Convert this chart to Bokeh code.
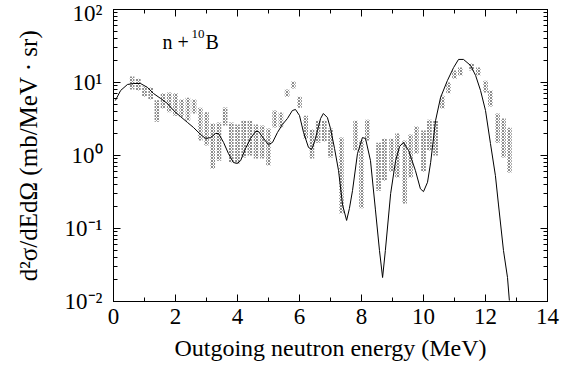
from bokeh.plotting import figure
from bokeh.models import ColumnDataSource, LinearAxis, LogAxis, Label
from bokeh.embed import file_html
from bokeh.resources import INLINE

# Calculated curve (MeV, mb/MeV/sr)
curve_e = [0.06, 0.23, 0.45, 0.65, 0.87, 1.10, 1.29, 1.52, 1.74, 1.94, 2.16, 2.39, 2.58, 2.81,
           2.97, 3.13, 3.29, 3.39, 3.55, 3.71, 3.87, 4.00, 4.10, 4.26, 4.42, 4.58, 4.68, 4.84,
           5.00, 5.13, 5.29, 5.45, 5.61, 5.77, 5.87, 6.00, 6.13, 6.29, 6.39, 6.48, 6.58, 6.68,
           6.77, 6.90, 7.00, 7.13, 7.26, 7.39, 7.52, 7.61, 7.71, 7.87, 8.03, 8.13, 8.29, 8.45,
           8.58, 8.68, 8.77, 8.94, 9.10, 9.23, 9.35, 9.52, 9.74, 9.90, 10.00, 10.13, 10.23,
           10.39, 10.55, 10.77, 10.97, 11.13, 11.29, 11.52, 11.68, 11.84, 12.00, 12.16, 12.32,
           12.42, 12.58, 12.71, 12.77]
curve_xs = [5.67, 7.77, 9.39, 9.69, 9.69, 8.54, 7.07, 6.04, 5.16, 4.13, 3.42, 2.83, 2.42, 1.94,
            1.71, 1.76, 2.00, 2.00, 1.51, 1.06, 0.80, 0.78, 0.85, 1.25, 1.71, 2.13, 2.13, 1.71,
            1.41, 1.51, 2.07, 2.66, 3.21, 4.13, 4.27, 3.53, 2.07, 1.29, 1.21, 1.51, 2.20, 3.21,
            3.76, 3.31, 2.34, 1.25, 0.62, 0.21, 0.129, 0.188, 0.33, 1.06, 1.76, 1.71, 0.85,
            0.18, 0.050, 0.0213, 0.050, 0.30, 0.85, 1.33, 1.51, 1.17, 0.62, 0.35, 0.32, 0.43,
            0.80, 3.02, 6.23, 10.6, 16.0, 20.7, 20.7, 17.1, 12.5, 7.77, 4.13, 1.46, 0.53,
            0.21, 0.050, 0.0213, 0.0103]

# Experimental data ranges (all angles) per energy bin
exp_e = [0.6, 0.8, 1.0, 1.2, 1.4, 1.6, 1.8, 2.0, 2.2, 2.4, 2.6, 2.8, 3.0, 3.2, 3.4, 3.6, 3.8,
         4.0, 4.2, 4.4, 4.6, 4.8, 5.0, 5.2, 5.4, 5.6, 5.8, 6.0, 6.2, 6.4, 6.6, 6.8, 7.0, 7.35,
         7.81, 8.0, 8.19, 8.55, 8.74, 8.97, 9.16, 9.39, 9.58, 9.77, 10.0, 10.19, 10.39, 10.61,
         10.81, 11.0, 11.19, 11.55, 11.77, 12.0, 12.16, 12.39, 12.58, 12.77]
exp_hi = [12.1, 11.3, 8.8, 8.55, 5.7, 7.1, 7.3, 7.1, 5.85, 6.2, 5.85, 4.5, 3.9, 2.74, 2.83, 4.54,
          2.83, 2.66, 3.0, 3.0, 2.66, 2.58, 2.34, 4.13, 3.88, 8.0, 10.3, 6.4, 3.5, 2.27, 3.0, 3.0,
          2.34, 1.76, 3.0, 1.6, 3.1, 1.5, 1.7, 1.7, 2.0, 1.6, 1.94, 2.5, 2.2, 3.1, 3.0, 6.6, 10.0,
          14.6, 16.0, 18.2, 16.0, 10.6, 7.8, 3.76, 3.2, 2.4]
exp_lo = [8.0, 7.8, 6.4, 5.85, 2.9, 4.4, 3.9, 3.5, 3.4, 3.0, 3.76, 1.6, 1.37, 0.66, 0.85, 2.58,
          0.80, 0.78, 0.94, 1.0, 0.91, 0.91, 0.73, 2.42, 2.42, 6.4, 8.3, 4.5, 1.7, 0.91, 1.5, 1.56,
          0.94, 0.16, 1.17, 0.19, 1.6, 0.33, 0.45, 0.6, 0.5, 0.22, 0.5, 1.06, 0.6, 1.17, 1.0, 4.4,
          7.1, 11.3, 12.5, 14.6, 12.5, 7.3, 4.7, 1.5, 0.94, 0.585]

y_ticks = [0.01, 0.1, 1, 10, 100]
y_tick_labels = ["10⁻²", "10⁻¹", "10⁰", "10¹", "10²"]

FONT = "Liberation Serif"

p = figure(width=564, height=367, x_range=(0, 14), y_range=(0.01, 100), y_axis_type="log",
           output_backend="svg", toolbar_location=None,
           min_border_left=113, min_border_right=17, min_border_top=9, min_border_bottom=66)
p.background_fill_color = "white"
p.border_fill_color = "white"
p.outline_line_color = "black"
p.grid.visible = False

bars = ColumnDataSource(dict(x=exp_e, top=exp_hi, bottom=exp_lo))
p.vbar(x="x", top="top", bottom="bottom", width=0.15, source=bars,
       fill_color="white", line_color=None,
       hatch_pattern="x", hatch_color="#8c8c8c", hatch_scale=3.0, hatch_weight=1.0)

curve = ColumnDataSource(dict(x=curve_e, y=curve_xs))
p.line("x", "y", source=curve, line_color="black", line_width=1.0)

# reaction label "n + 10B" (10 as superscript)
p.add_layout(Label(x=1.58, y=36, text="n +", text_font=FONT, text_font_size="20px",
                   text_color="black", text_baseline="alphabetic"))
p.add_layout(Label(x=1.58, y=36, x_offset=29, y_offset=8, text="10", text_font=FONT,
                   text_font_size="13px", text_color="black", text_baseline="alphabetic"))
p.add_layout(Label(x=1.58, y=36, x_offset=43, text="B", text_font=FONT, text_font_size="20px",
                   text_color="black", text_baseline="alphabetic"))

def style(ax, labels=True):
    ax.major_tick_in = 7
    ax.major_tick_out = 0
    ax.minor_tick_in = 4
    ax.minor_tick_out = 0
    ax.axis_line_color = "black"
    ax.major_tick_line_color = "black"
    ax.minor_tick_line_color = "black"
    ax.major_label_text_font = FONT
    ax.major_label_text_color = "black"
    if labels:
        ax.major_label_text_font_size = "23px"
    else:
        ax.major_label_text_font_size = "1px"
        ax.major_label_text_alpha = 0
        ax.major_label_standoff = 0

xa = p.xaxis[0]
style(xa)
xa.ticker.desired_num_ticks = 8
xa.ticker.num_minor_ticks = 2
xa.major_label_standoff = 7
xa.axis_label = "Outgoing neutron energy (MeV)"
xa.axis_label_text_font = FONT
xa.axis_label_text_color = "black"
xa.axis_label_text_font_style = "normal"
xa.axis_label_text_font_size = "24px"
xa.axis_label_standoff = 8

ya = p.yaxis[0]
style(ya)
ya.major_label_overrides = {t: l for t, l in zip(y_ticks, y_tick_labels)}
ya.major_label_standoff = 11
ya.axis_label = "d²σ/dEdΩ (mb/MeV · sr)"
ya.axis_label_text_font = FONT
ya.axis_label_text_color = "black"
ya.axis_label_text_font_style = "normal"
ya.axis_label_text_font_size = "25px"
ya.axis_label_standoff = 20

top = LinearAxis(ticker=xa.ticker)
style(top, labels=False)
p.add_layout(top, "above")
right = LogAxis(ticker=ya.ticker)
style(right, labels=False)
p.add_layout(right, "right")

open("out.html", "w").write(file_html(p, INLINE))
